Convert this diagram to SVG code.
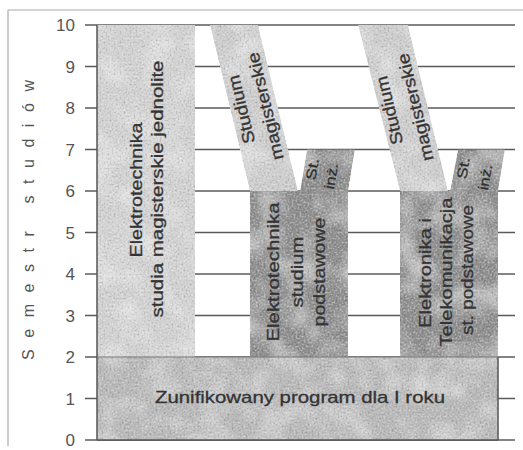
<svg xmlns="http://www.w3.org/2000/svg" width="523" height="450" viewBox="0 0 523 450">
<defs>
<filter id="grain" x="0" y="0" width="100%" height="100%">
<feTurbulence type="fractalNoise" baseFrequency="0.5" numOctaves="2" seed="4" result="n"/>
<feColorMatrix in="n" type="matrix" values="0 0 0 0 0  0 0 0 0 0  0 0 0 0 0  0.9 0 0 0 -0.42" result="dark"/>
<feColorMatrix in="n" type="matrix" values="0 0 0 0 1  0 0 0 0 1  0 0 0 0 1  0 0.9 0 0 -0.4" result="light"/>
<feTurbulence type="fractalNoise" baseFrequency="0.035" numOctaves="2" seed="9" result="m"/>
<feColorMatrix in="m" type="matrix" values="0 0 0 0 1  0 0 0 0 1  0 0 0 0 1  0 0 0.9 0 -0.38" result="blot"/>
<feMerge result="all"><feMergeNode in="SourceGraphic"/><feMergeNode in="blot"/><feMergeNode in="dark"/><feMergeNode in="light"/></feMerge>
<feComposite in="all" in2="SourceGraphic" operator="in"/>
</filter>
</defs>
<style>
.num{font-family:"Liberation Sans",Arial,sans-serif;font-size:17px;fill:#555;text-anchor:end}
.lbl{font-family:"Liberation Sans",Arial,sans-serif;font-size:17px;fill:#333;text-anchor:middle;stroke:#333;stroke-width:0.3}
.sm{font-family:"Liberation Sans",Arial,sans-serif;font-size:14px;fill:#2e2e2e;text-anchor:middle;stroke:#2e2e2e;stroke-width:0.25}
.grid line{stroke:#5a5a5a;stroke-width:1.5}
.light{fill:#d2d2d2;filter:url(#grain)}
.band{fill:#cdcdcd;filter:url(#grain)}
.dark{fill:#8c8c8c;filter:url(#grain)}
.base{fill:#b8b8b8;filter:url(#grain)}
</style>
<rect width="523" height="450" fill="#fff"/>
<g id="frame" stroke="#aaa" stroke-width="1.2" fill="none">
<line x1="8" y1="10" x2="523" y2="10"/>
<line x1="8" y1="10" x2="8" y2="446"/>
</g>
<g id="axis">
<text class="num" x="75" y="446">0</text>
<text class="num" x="75" y="404.5">1</text>
<text class="num" x="75" y="363">2</text>
<text class="num" x="75" y="321.5">3</text>
<text class="num" x="75" y="280">4</text>
<text class="num" x="75" y="238.5">5</text>
<text class="num" x="75" y="197">6</text>
<text class="num" x="75" y="155.5">7</text>
<text class="num" x="75" y="114">8</text>
<text class="num" x="75" y="72.5">9</text>
<text class="num" x="75" y="31">10</text>
<text transform="translate(34,220) rotate(-90)" font-family="Liberation Sans,Arial,sans-serif" font-size="16" fill="#555" text-anchor="middle" textLength="280" lengthAdjust="spacing">Semestr studiów</text>
</g>
<g id="connectors" class="grid">
<line x1="85" y1="440" x2="515" y2="440"/>
<line x1="85" y1="398.5" x2="515" y2="398.5"/>
<line x1="85" y1="357" x2="515" y2="357"/>
<line x1="85" y1="315.5" x2="515" y2="315.5"/>
<line x1="85" y1="274" x2="515" y2="274"/>
<line x1="85" y1="232.5" x2="515" y2="232.5"/>
<line x1="85" y1="191" x2="515" y2="191"/>
<line x1="85" y1="149.5" x2="515" y2="149.5"/>
<line x1="85" y1="108" x2="515" y2="108"/>
<line x1="85" y1="66.5" x2="515" y2="66.5"/>
<line x1="85" y1="25" x2="515" y2="25"/>
</g>
<g id="jednolite">
<rect class="light" x="97" y="25" width="98" height="332"/>
<text class="lbl" transform="translate(142,190) rotate(-90)" textLength="135" lengthAdjust="spacingAndGlyphs">Elektrotechnika</text>
<text class="lbl" transform="translate(163,189) rotate(-90)" textLength="257" lengthAdjust="spacingAndGlyphs">studia magisterskie jednolite</text>
</g>
<g id="mag1">
<polygon class="band" points="210,25 258,25 298,191 250,191"/>
<text class="lbl" transform="translate(247,108) rotate(-103.5)" textLength="70" lengthAdjust="spacingAndGlyphs">Studium</text>
<text class="lbl" transform="translate(271,105) rotate(-103.5)" textLength="110" lengthAdjust="spacingAndGlyphs">magisterskie</text>
</g>
<g id="mag2">
<polygon class="band" points="358,25 408,25 448,191 400,191"/>
<text class="lbl" transform="translate(395,109) rotate(-103.5)" textLength="70" lengthAdjust="spacingAndGlyphs">Studium</text>
<text class="lbl" transform="translate(421,106) rotate(-103.5)" textLength="110" lengthAdjust="spacingAndGlyphs">magisterskie</text>
</g>
<g id="inz1">
<polygon class="dark" points="307,149.5 355,149.5 348,191 300,191"/>
<text class="sm" transform="translate(317,170) rotate(-80.5)" textLength="22" lengthAdjust="spacingAndGlyphs">St.</text>
<text class="sm" transform="translate(336,177) rotate(-80.5)" textLength="26" lengthAdjust="spacingAndGlyphs">inż.</text>
</g>
<g id="inz2">
<polygon class="dark" points="458,149.5 505,149.5 498,191 450,191"/>
<text class="sm" transform="translate(468,169) rotate(-80.5)" textLength="22" lengthAdjust="spacingAndGlyphs">St.</text>
<text class="sm" transform="translate(490,178) rotate(-80.5)" textLength="26" lengthAdjust="spacingAndGlyphs">inż.</text>
</g>
<g id="podstawowe-et">
<rect class="dark" x="250" y="191" width="98" height="166"/>
<text class="lbl" transform="translate(279,272) rotate(-90)" textLength="139" lengthAdjust="spacingAndGlyphs">Elektrotechnika</text>
<text class="lbl" transform="translate(303,272) rotate(-90)" textLength="71" lengthAdjust="spacingAndGlyphs">studium</text>
<text class="lbl" transform="translate(325,272) rotate(-90)" textLength="109" lengthAdjust="spacingAndGlyphs">podstawowe</text>
</g>
<g id="podstawowe-eit">
<rect class="dark" x="400" y="191" width="98" height="166"/>
<text class="lbl" transform="translate(431,273) rotate(-90)" textLength="110" lengthAdjust="spacingAndGlyphs">Elektronika i</text>
<text class="lbl" transform="translate(452,272) rotate(-90)" textLength="149" lengthAdjust="spacingAndGlyphs">Telekomunikacja</text>
<text class="lbl" transform="translate(473,270) rotate(-90)" textLength="130" lengthAdjust="spacingAndGlyphs">st. podstawowe</text>
</g>
<g id="pierwszy-rok">
<rect class="base" x="97" y="357" width="401" height="83"/>
<text class="lbl" x="300" y="403" textLength="290" lengthAdjust="spacingAndGlyphs">Zunifikowany program dla I roku</text>
</g>
<g id="edges" stroke="#555" stroke-width="1.5">
<line x1="97" y1="25" x2="97" y2="440"/>
<line x1="498" y1="357" x2="498" y2="440"/>
<line x1="97" y1="440" x2="498" y2="440"/>
<line x1="97" y1="357" x2="498" y2="357" stroke="#777" stroke-width="1"/>
</g>
</svg>
